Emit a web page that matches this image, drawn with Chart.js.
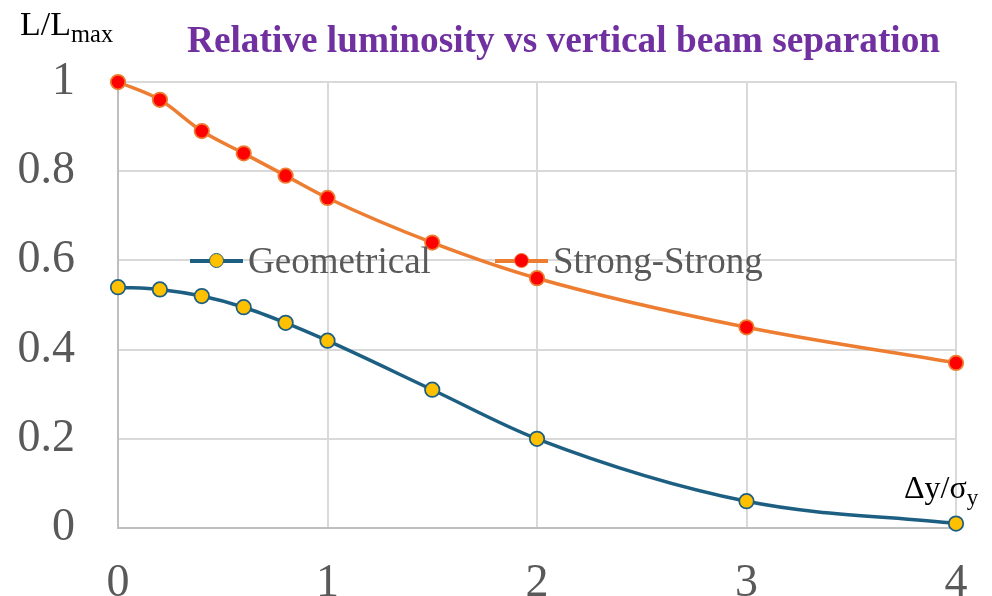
<!DOCTYPE html>
<html>
<head>
<meta charset="utf-8">
<script src="https://cdn.jsdelivr.net/npm/chart.js@4"></script>
<style>
  body { margin: 0; background: #fff; }
  #wrap { position: relative; width: 992px; height: 596px; font-family: "Liberation Serif", "Times New Roman", serif; }
  .txt { position: absolute; white-space: nowrap; line-height: 1; }
  #title { left: 187px; top: 21px; font-size: 37.3px; font-weight: bold; color: #7030A0; }
  #ylab { left: 20px; top: 7px; font-size: 34px; color: #000; }
  #xlab { left: 904px; top: 471px; font-size: 32px; color: #000; }
  sub { font-size: 0.72em; vertical-align: -0.3em; line-height: 0; }
  .leg { position: absolute; height: 0; }
  .leg .ln { position: absolute; top: -1.75px; width: 53px; height: 3.5px; }
  .leg .dot { position: absolute; top: -8px; left: 19px; width: 13px; height: 13px; border-radius: 50%; border: 1.5px solid; }
  .leg .lt { position: absolute; left: 58px; top: -19px; font-size: 37px; color: #595959; }
</style>
</head>
<body>
<div id="wrap">
  <canvas id="lumiChart" width="992" height="596"></canvas>
  <div class="txt" id="title">Relative luminosity vs vertical beam separation</div>
  <div class="txt" id="ylab">L/L<sub>max</sub></div>
  <div class="txt" id="xlab">Δy/σ<sub>y</sub></div>
  <div class="leg" id="legGeo" style="left:190px; top:261px;">
    <div class="ln" style="background:#1D5F82"></div>
    <div class="dot" style="background:#FFC000; border-color:#1D5F82"></div>
    <div class="lt txt">Geometrical</div>
  </div>
  <div class="leg" id="legSS" style="left:495px; top:261px;">
    <div class="ln" style="background:#ED7D31"></div>
    <div class="dot" style="background:#FF0000; border-color:#ED7D31"></div>
    <div class="lt txt">Strong-Strong</div>
  </div>
</div>
<script>
// ================= Data =================
const separation = [0, 0.2, 0.4, 0.6, 0.8, 1, 1.5, 2, 3, 4];
const geometrical = [0.54, 0.535, 0.52, 0.495, 0.46, 0.42, 0.31, 0.2, 0.06, 0.01];
const strongStrong = [1.0, 0.96, 0.89, 0.84, 0.79, 0.74, 0.64, 0.56, 0.45, 0.37];
const yTicks = [0, 0.2, 0.4, 0.6, 0.8, 1];
const xTicks = [0, 1, 2, 3, 4];

const toPoints = ys => separation.map((x, i) => ({ x: x, y: ys[i] }));
const tickFont = { family: '"Liberation Serif", "Times New Roman", serif', size: 46 };

const ctx = document.getElementById('lumiChart').getContext('2d');
new Chart(ctx, {
  type: 'line',
  data: {
    datasets: [
      {
        label: 'Geometrical',
        data: toPoints(geometrical),
        borderColor: '#1D5F82',
        pointBackgroundColor: '#FFC000',
        pointBorderColor: '#1D5F82',
        pointBorderWidth: 1.75,
        pointRadius: 7.25,
        borderWidth: 3.5,
        cubicInterpolationMode: 'monotone',
        clip: false
      },
      {
        label: 'Strong-Strong',
        data: toPoints(strongStrong),
        borderColor: '#ED7D31',
        pointBackgroundColor: '#FF0000',
        pointBorderColor: '#ED7D31',
        pointBorderWidth: 1.75,
        pointRadius: 7.25,
        borderWidth: 3.5,
        cubicInterpolationMode: 'monotone',
        clip: false
      }
    ]
  },
  options: {
    responsive: false,
    animation: false,
    layout: { padding: { top: 82, right: 36, left: 0, bottom: 0 } },
    plugins: {
      legend: { display: false },
      title: { display: false },
      tooltip: { enabled: false }
    },
    scales: {
      x: {
        type: 'linear',
        min: 0,
        max: 4,
        // fixed axis band; drop the label overhang padding so the plot edges stay put
        afterFit: s => { s.height = 68; s.paddingLeft = 0; s.paddingRight = 0; },
        afterBuildTicks: s => { s.ticks = xTicks.map(v => ({ value: v })); },
        ticks: { color: '#595959', font: tickFont, padding: 28 },
        grid: { color: '#D9D9D9', lineWidth: 2, drawTicks: false },
        border: { color: '#BFBFBF', width: 2 }
      },
      y: {
        min: 0,
        max: 1,
        afterFit: s => { s.width = 118; s.paddingTop = 0; s.paddingBottom = 0; },
        afterBuildTicks: s => { s.ticks = yTicks.map(v => ({ value: v })); },
        ticks: { color: '#595959', font: tickFont, padding: 43, callback: v => String(Math.round(v * 10) / 10) },
        grid: { color: '#D9D9D9', lineWidth: 2, drawTicks: false },
        border: { color: '#BFBFBF', width: 2 }
      }
    }
  }
});
</script>
</body>
</html>
